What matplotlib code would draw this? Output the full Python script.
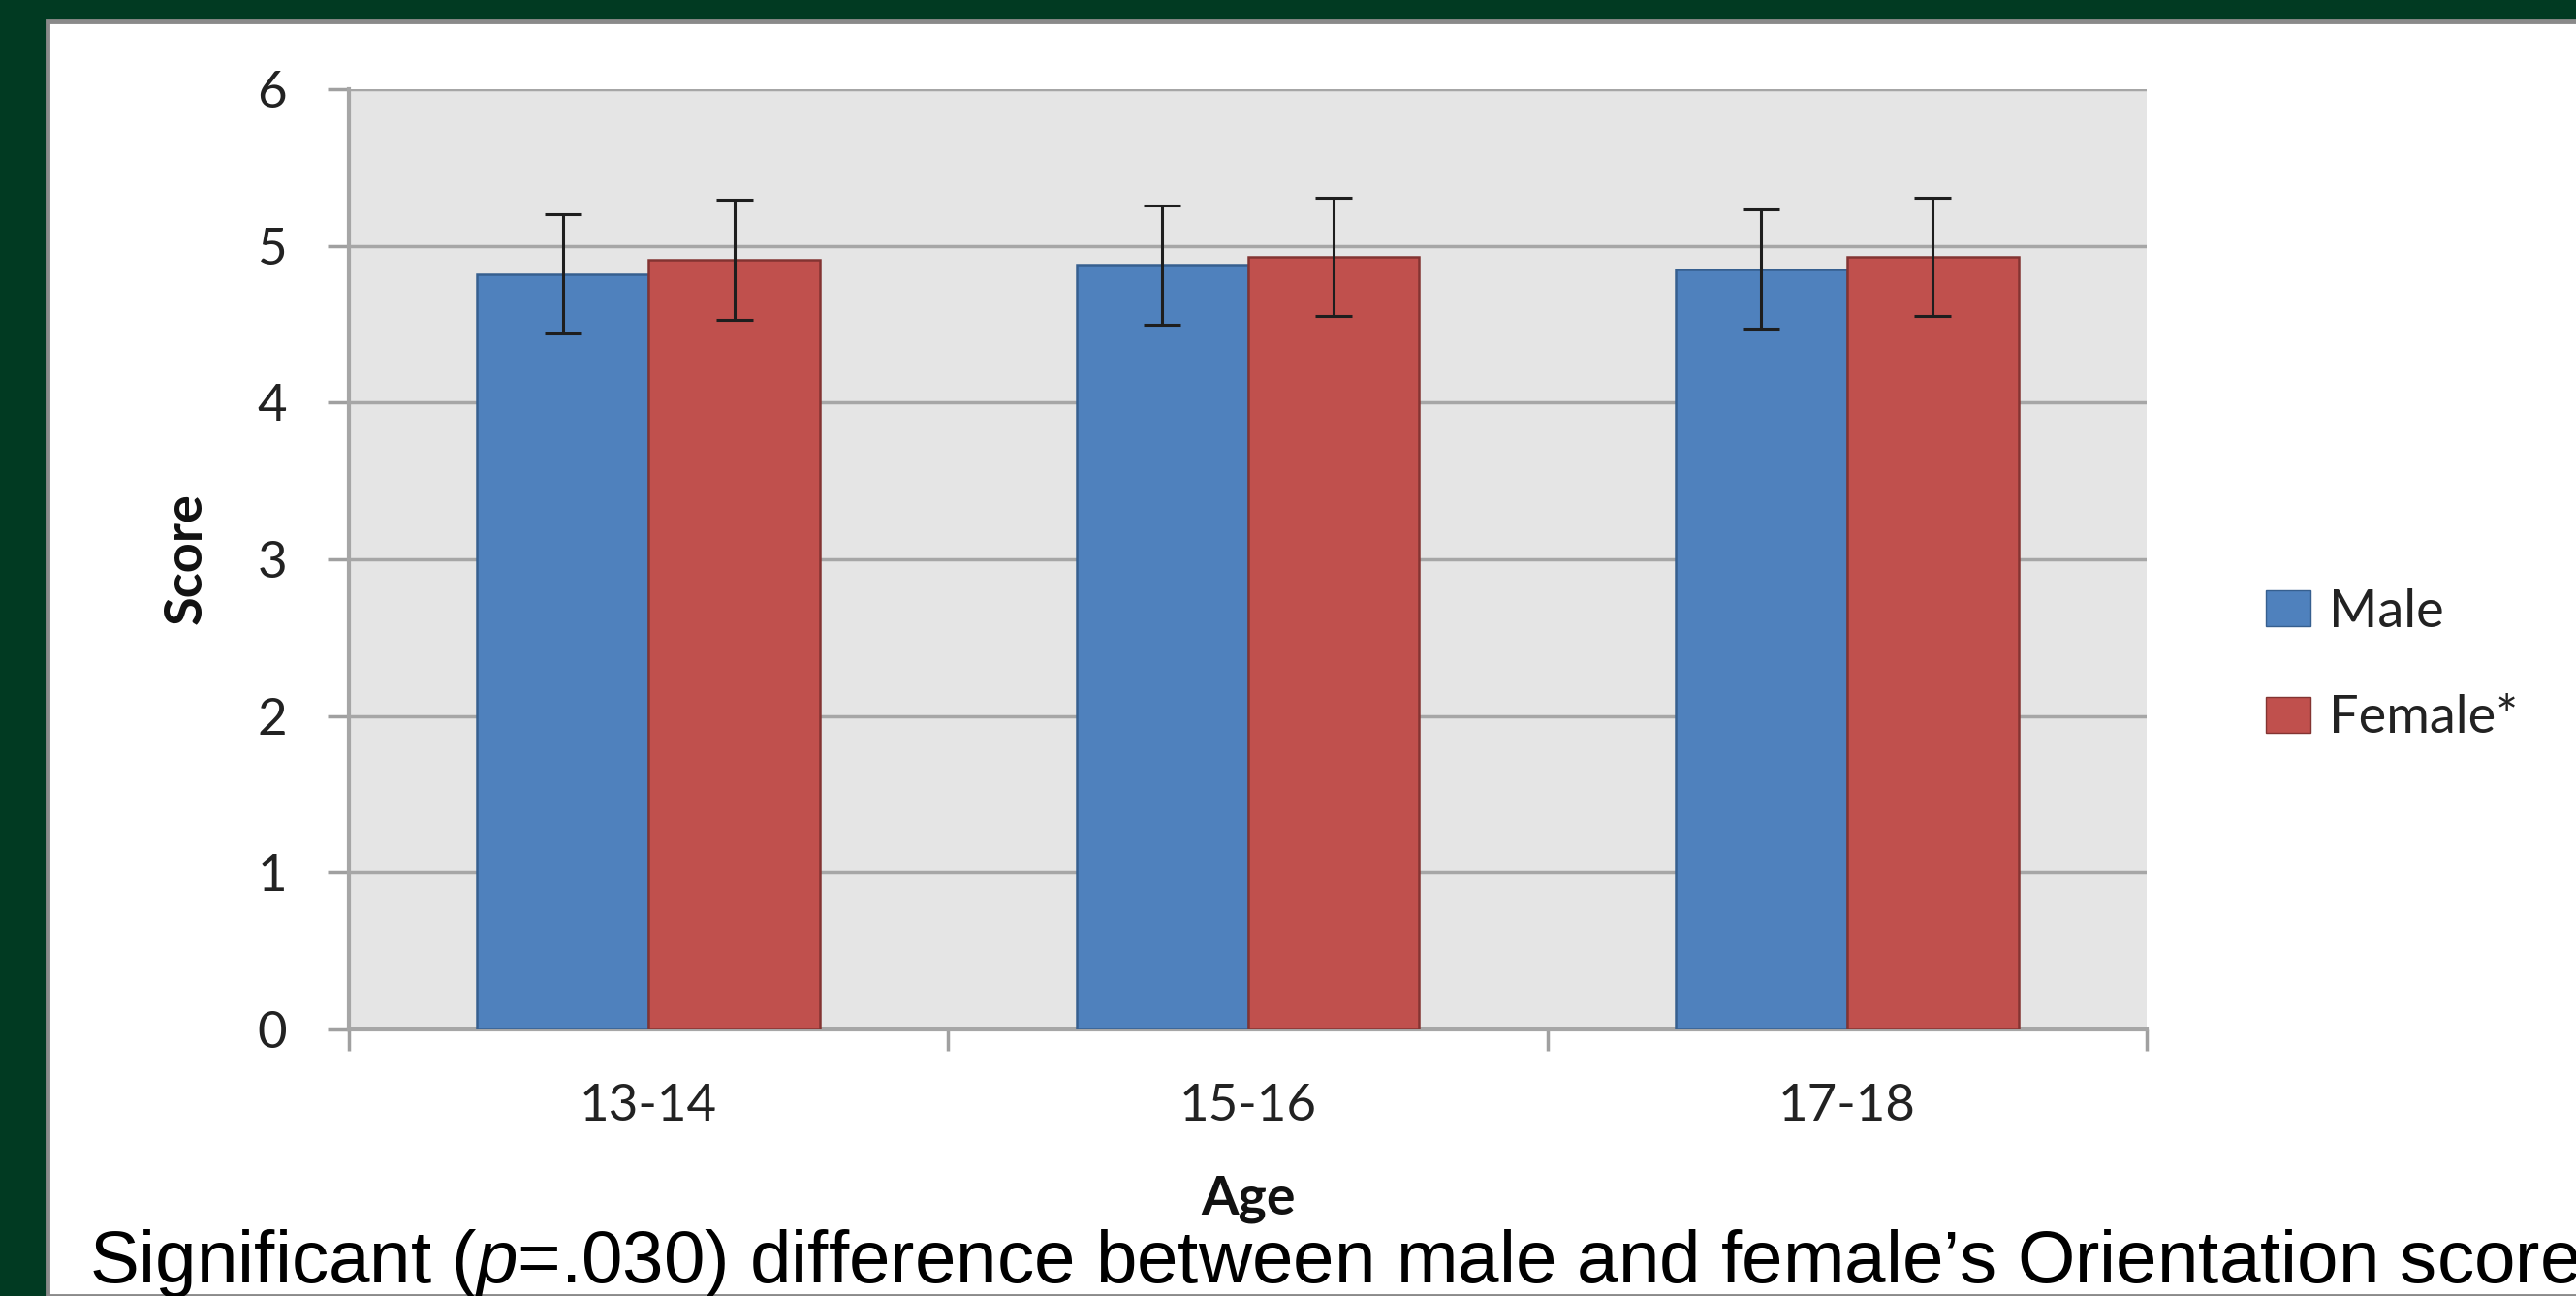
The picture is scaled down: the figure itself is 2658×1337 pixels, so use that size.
import numpy as np
import matplotlib
matplotlib.use("Agg")
import matplotlib.pyplot as plt
from matplotlib.patches import Rectangle, Patch

# --- data ---
age_groups = ['13-14', '15-16', '17-18']
male_scores = [4.82, 4.88, 4.85]
female_scores = [4.91, 4.93, 4.93]
male_err = [0.38, 0.38, 0.38]
female_err = [0.385, 0.38, 0.38]
y_ticks = [0, 1, 2, 3, 4, 5, 6]

caption = r"Significant ($\mathit{p}$=.030) difference between male and female’s Orientation score"

plt.rcParams['mathtext.fontset'] = 'custom'
plt.rcParams['mathtext.rm'] = 'Liberation Sans'
plt.rcParams['mathtext.it'] = 'Liberation Sans:italic'

W, H = 2658, 1337
fig = plt.figure(figsize=(W / 100, H / 100), dpi=100, facecolor='#013a22')

# white panel with grey frame on top / left
panel = Rectangle((49 / W, 0), 1.0, 1 - 22 / H, transform=fig.transFigure,
                  facecolor='white', edgecolor='#8a8a8a', lw=3.5, zorder=-10)
fig.patches.append(panel)

ax = fig.add_axes([360 / W, 1 - 1062 / H, 1855 / W, 970 / H])
ax.set_facecolor('#e5e5e5')

x = np.arange(len(age_groups))
w = 0.286
blue, red = '#4f81bd', '#c0504d'
ax.bar(x - w / 2, male_scores, w, color=blue, edgecolor='#365f8f', lw=1.8, zorder=3)
ax.bar(x + w / 2, female_scores, w, color=red, edgecolor='#833432', lw=1.8, zorder=3)
ekw = dict(fmt='none', ecolor='#1e1e1e', elinewidth=2.2, capsize=13.5, capthick=2.2, zorder=4)
ax.errorbar(x - w / 2, male_scores, yerr=male_err, **ekw)
ax.errorbar(x + w / 2, female_scores, yerr=female_err, **ekw)

ax.set_xlim(-0.5, len(age_groups) - 0.5)
ax.set_ylim(0, 6)
ax.set_yticks(y_ticks)
ax.set_yticklabels([str(t) for t in y_ticks], family='Lato', fontsize=38, color='#222222')
ax.set_xticks(x)
ax.set_xticklabels(age_groups, family='Lato', fontsize=38, color='#222222')
ax.set_xticks(np.arange(len(age_groups) + 1) - 0.5, minor=True)
ax.tick_params(axis='x', which='major', length=0, pad=40)
ax.tick_params(axis='x', which='minor', length=16, width=2.5, color='#a0a0a0')
ax.tick_params(axis='y', length=16, width=2.5, color='#a0a0a0', pad=30)

ax.grid(axis='y', color='#a6a6a6', lw=2.5, zorder=1)
ax.set_axisbelow(True)
for s in ['top', 'right']:
    ax.spines[s].set_visible(False)
for s in ['left', 'bottom']:
    ax.spines[s].set_color('#a6a6a6')
    ax.spines[s].set_linewidth(3)

fig.text(192 / W, 1 - 576 / H, 'Score', rotation=90, family='Lato', fontweight='bold',
         fontsize=39, ha='center', va='center', color='#111111')
fig.text(1288 / W, 1 - 1253 / H, 'Age', family='Lato', fontweight='bold',
         fontsize=40, ha='center', va='baseline', color='#111111')

handles = [Patch(facecolor=blue, edgecolor='#365f8f'), Patch(facecolor=red, edgecolor='#833432')]
fig.legend(handles, ['Male', 'Female*'], loc='center left', bbox_to_anchor=(2338 / W, 1 - 686 / H),
           frameon=False, prop={'family': 'Lato', 'size': 39}, handlelength=0.85, handleheight=0.68,
           handletextpad=0.35, labelspacing=1.12, borderpad=0, borderaxespad=0,
           labelcolor='#222222')

fig.text(92 / W, 1 - 1323 / H, caption, family='Liberation Sans', fontsize=55,
         ha='left', va='baseline', color='black')

fig.savefig('out.png', dpi=100, facecolor=fig.get_facecolor())
